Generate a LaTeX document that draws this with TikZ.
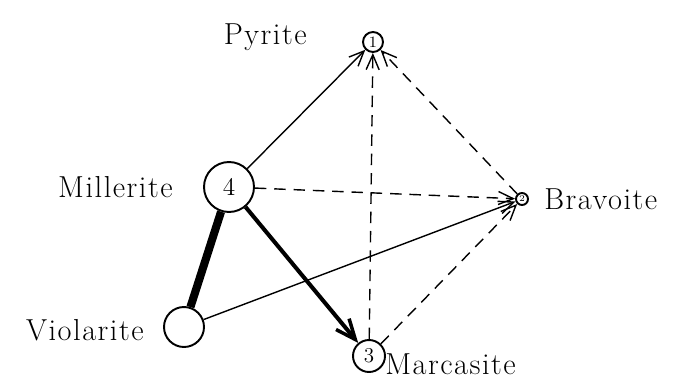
\documentclass[tikz,border=0pt]{standalone}
\usepackage{fontspec}
\usepackage{tikz}
\usetikzlibrary{arrows.meta,positioning}
\newfontfamily\namefont{Latin Modern Roman}[LetterSpace=5]

\tikzset{
  mineral/.style={circle, draw, line width=1.1pt, inner sep=0pt, font=\Large},
  mname/.style={font=\namefont\LARGE, inner sep=0pt},
  direct/.style={line width=0.8pt, -{Straight Barb[length=3mm,width=2.6mm]}},
  weak/.style={line width=0.8pt, dash pattern=on 6.5pt off 4.5pt, -{Straight Barb[length=3mm,width=2.6mm]}},
  strong/.style={line width=2.3pt, -{Straight Barb[length=4mm,width=3.4mm,line width=2pt]}},
  bond/.style={line width=4.6pt}
}

\begin{document}
\begin{tikzpicture}[x=0.02cm, y=-0.02cm]
  \useasboundingbox (0,0) rectangle (686,382);
  % minerals
  \node[mineral, minimum size=0.4cm] (pyr) at (373,42) {\small 1};
  \node[mineral, minimum size=0.24cm] (bra) at (522,199) {\tiny 2};
  \node[mineral, minimum size=1.0cm] (mil) at (229,187) {4};
  \node[mineral, minimum size=0.8cm] (vio) at (184,327) {};
  \node[mineral, minimum size=0.64cm] (mar) at (369,356) {\large 3};
  % names
  \node[mname, left=1.1cm of pyr.west, yshift=0.1cm] (pyrname) {Pyrite};
  \node[mname, right=0.3cm of bra.east] (braname) {Bravoite};
  \node[mname, left=0.6cm of mil.west] (milname) {Millerite};
  \node[mname, left=0.38cm of vio.west, yshift=-0.06cm] (vioname) {Violarite};
  \node[mname, anchor=west] (marname) at (385,364) {Marcasite};
  % transformations
  \draw[direct] (mil) -- (pyr);
  \draw[weak] (mar) -- (pyr);
  \draw[weak] (bra) -- (pyr);
  \draw[weak] (mil) -- (bra);
  \draw[direct] (vio) -- (bra);
  \draw[weak] (mar) -- (bra);
  \draw[strong] (mil) -- (mar);
  \draw[bond] (mil) -- (vio);
\end{tikzpicture}
\end{document}
